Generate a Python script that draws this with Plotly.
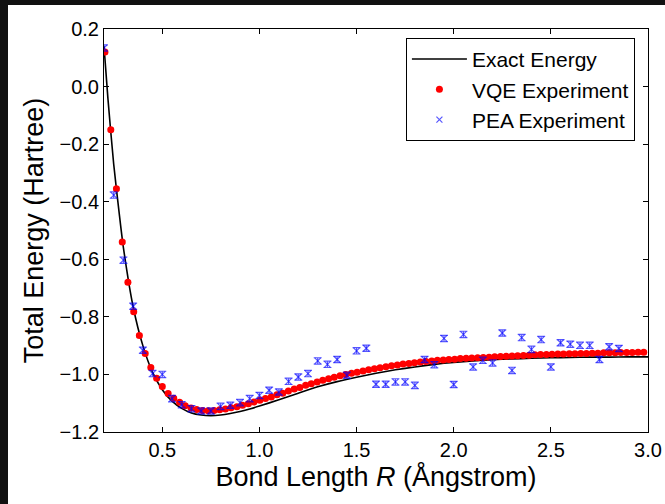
import plotly.graph_objects as go

# ---------------- data ----------------
exact_r = [0.20, 0.22, 0.25, 0.28, 0.30, 0.35, 0.40, 0.45, 0.50, 0.55, 0.60, 0.65, 0.70,
           0.75, 0.80, 0.85, 0.90, 0.95, 1.00, 1.10, 1.20, 1.30, 1.40, 1.50, 1.60, 1.70,
           1.80, 1.90, 2.00, 2.10, 2.20, 2.30, 2.40, 2.50, 2.60, 2.70, 2.80, 2.90, 3.00]
exact_e = [0.140, -0.040, -0.270, -0.450, -0.560, -0.765, -0.900, -0.993, -1.053, -1.093,
           -1.118, -1.134, -1.141, -1.143, -1.141, -1.136, -1.129, -1.120, -1.110, -1.088,
           -1.065, -1.043, -1.025, -1.010, -0.996, -0.984, -0.974, -0.965, -0.958, -0.953,
           -0.949, -0.946, -0.944, -0.942, -0.941, -0.940, -0.940, -0.939, -0.939]

vqe_r = [0.205, 0.235, 0.264, 0.294, 0.323, 0.353, 0.382, 0.412, 0.441, 0.471, 0.500,
         0.530, 0.559, 0.589, 0.618, 0.648, 0.677, 0.707, 0.736, 0.766, 0.795, 0.825,
         0.854, 0.884, 0.913, 0.943, 0.972, 1.002, 1.031, 1.061, 1.090, 1.120, 1.149,
         1.179, 1.208, 1.238, 1.267, 1.297, 1.326, 1.356, 1.385, 1.415, 1.444, 1.474,
         1.503, 1.533, 1.562, 1.592, 1.621, 1.651, 1.680, 1.710, 1.739, 1.769, 1.798,
         1.828, 1.857, 1.887, 1.916, 1.946, 1.975, 2.005, 2.034, 2.064, 2.093, 2.123,
         2.152, 2.182, 2.211, 2.241, 2.270, 2.300, 2.329, 2.359, 2.388, 2.418, 2.447,
         2.477, 2.506, 2.536, 2.565, 2.595, 2.624, 2.654, 2.683, 2.713, 2.742, 2.772,
         2.801, 2.831, 2.860, 2.890, 2.919, 2.949, 2.978]
vqe_e = [0.120, -0.150, -0.355, -0.540, -0.680, -0.782, -0.865, -0.927, -0.976, -1.013,
         -1.042, -1.066, -1.083, -1.097, -1.109, -1.117, -1.122, -1.125, -1.126, -1.125,
         -1.123, -1.120, -1.116, -1.112, -1.107, -1.102, -1.096, -1.090, -1.084, -1.078,
         -1.071, -1.065, -1.058, -1.051, -1.045, -1.038, -1.032, -1.026, -1.020, -1.015,
         -1.010, -1.005, -1.000, -0.996, -0.992, -0.988, -0.984, -0.980, -0.977, -0.973,
         -0.970, -0.967, -0.964, -0.962, -0.959, -0.957, -0.955, -0.953, -0.951, -0.950,
         -0.948, -0.947, -0.945, -0.944, -0.943, -0.942, -0.941, -0.940, -0.939, -0.938,
         -0.937, -0.936, -0.935, -0.934, -0.933, -0.932, -0.931, -0.931, -0.930, -0.929,
         -0.929, -0.928, -0.928, -0.927, -0.927, -0.926, -0.926, -0.925, -0.925, -0.925,
         -0.924, -0.924, -0.924, -0.923, -0.923]
vqe_err = [0.006] * len(vqe_r)

pea_r = [0.20, 0.25, 0.30, 0.35, 0.40, 0.45, 0.50, 0.55, 0.60, 0.65, 0.70, 0.75, 0.80,
         0.85, 0.90, 0.95, 1.00, 1.05, 1.10, 1.15, 1.20, 1.25, 1.30, 1.35, 1.40, 1.45,
         1.50, 1.55, 1.60, 1.65, 1.70, 1.75, 1.80, 1.85, 1.90, 1.95, 2.00, 2.05, 2.10,
         2.15, 2.20, 2.25, 2.30, 2.35, 2.40, 2.45, 2.50, 2.55, 2.60, 2.65, 2.70, 2.75,
         2.80, 2.85]
pea_e = [0.134, -0.377, -0.603, -0.763, -0.916, -0.997, -1.000, -1.084, -1.105, -1.119,
         -1.127, -1.127, -1.111, -1.107, -1.098, -1.084, -1.073, -1.055, -1.061, -1.024,
         -1.009, -0.997, -0.953, -0.965, -0.948, -1.003, -0.918, -0.909, -1.034, -1.034,
         -1.026, -1.026, -1.038, -0.948, -0.966, -0.875, -1.035, -0.861, -0.974, -0.951,
         -0.960, -0.856, -0.986, -0.872, -0.913, -0.879, -0.974, -0.890, -0.895, -0.899,
         -0.899, -0.948, -0.904, -0.910]
pea_err = [0.011] * len(pea_r)

x_ticks = [0.5, 1.0, 1.5, 2.0, 2.5, 3.0]
y_ticks = [0.2, 0.0, -0.2, -0.4, -0.6, -0.8, -1.0, -1.2]

FONT = "Liberation Sans, Arial, sans-serif"

fig = go.Figure()
fig.add_trace(go.Scatter(
    x=exact_r, y=exact_e, mode="lines", name="Exact Energy",
    line=dict(color="black", width=1.6, shape="spline", smoothing=0.6),
    legendgroup="a"))
fig.add_trace(go.Scatter(
    x=vqe_r, y=vqe_e, mode="markers", name="VQE Experiment",
    marker=dict(color="red", size=7, symbol="circle", line=dict(width=0)),
    error_y=dict(type="data", array=vqe_err, color="rgba(255,0,0,0.6)", thickness=1, width=3),
    legendgroup="b"))
fig.add_trace(go.Scatter(
    x=pea_r, y=pea_e, mode="markers", name="PEA Experiment",
    marker=dict(color="rgba(0,0,255,0.65)", size=6, symbol="x-thin",
                line=dict(width=1.2, color="rgba(0,0,255,0.65)")),
    error_y=dict(type="data", array=pea_err, color="rgba(0,0,255,0.65)", thickness=1.2, width=4),
    legendgroup="c"))

axis_common = dict(showline=True, linecolor="black", linewidth=1, mirror="allticks",
                   ticks="inside", ticklen=5, tickwidth=1, tickcolor="black",
                   showgrid=False, zeroline=False, automargin=False,
                   tickfont=dict(family=FONT, size=20, color="black"))

fig.update_xaxes(range=[0.2, 3.0], tickvals=x_ticks, tickformat=".1f",
                 title=dict(text="Bond Length <i>R</i> (Ångstrom)",
                            font=dict(family=FONT, size=27, color="black"), standoff=6),
                 **axis_common)
fig.update_yaxes(range=[-1.2, 0.2], tickvals=y_ticks, tickformat=".1f",
                 title=dict(text="Total Energy (Hartree)",
                            font=dict(family=FONT, size=27, color="black"), standoff=8),
                 **axis_common)

fig.update_layout(
    width=657, height=499, autosize=False,
    margin=dict(l=96, r=17, t=24, b=72, pad=0),
    paper_bgcolor="white", plot_bgcolor="white",
    showlegend=True,
    legend=dict(x=0.555, y=0.978, xanchor="left", yanchor="top",
                bgcolor="white", bordercolor="black", borderwidth=1,
                font=dict(family=FONT, size=21, color="black"),
                tracegroupgap=0, traceorder="grouped", itemwidth=55),
)

page_css = ("document.documentElement.style.background='#111111';"
            "document.body.style.background='#111111';"
            "document.body.style.margin='5px 0 0 8px';"
            "document.body.style.overflow='hidden';")

fig.write_html("out.html", post_script=page_css)
